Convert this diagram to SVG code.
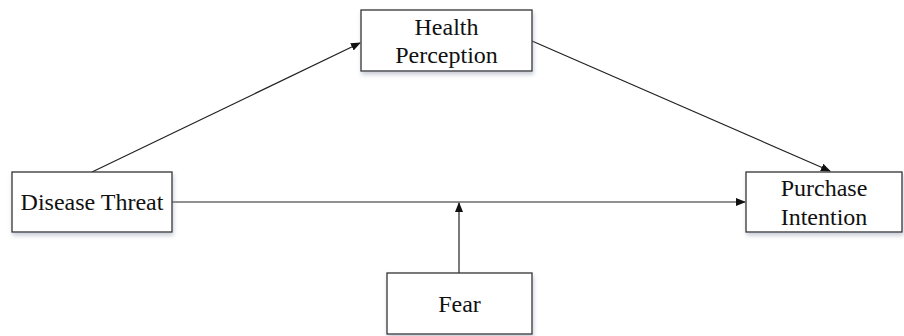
<svg xmlns="http://www.w3.org/2000/svg" width="904" height="336" viewBox="0 0 904 336">
<defs>
<marker id="arr" markerWidth="10" markerHeight="8" refX="9" refY="4" orient="auto" markerUnits="userSpaceOnUse">
<path d="M0,0 L10,4 L0,8 Z" fill="#111"/>
</marker>
<filter id="sh" x="-10%" y="-10%" width="125%" height="140%">
<feDropShadow dx="1" dy="3" stdDeviation="2" flood-color="#8890a8" flood-opacity="0.45"/>
</filter>
<style>
.box{fill:#fff;stroke:#333;stroke-width:1.3;filter:url(#sh)}
.t{font-family:"Liberation Serif","Times New Roman",serif;font-size:24px;fill:#111;text-anchor:middle}
.c{stroke:#222;stroke-width:1.2;fill:none}
</style>
</defs>
<rect width="904" height="336" fill="#fff"/>
<g id="connectors">
<line class="c" x1="92" y1="172" x2="360" y2="43" marker-end="url(#arr)"/>
<line class="c" x1="532" y1="41" x2="830" y2="171" marker-end="url(#arr)"/>
<line class="c" x1="172" y1="202" x2="745" y2="202" marker-end="url(#arr)"/>
<line class="c" x1="459" y1="273" x2="459" y2="203" marker-end="url(#arr)"/>
</g>
<g id="health-perception">
<rect class="box" x="361" y="10" width="171" height="61"/>
<text class="t" x="446.5" y="35">Health</text>
<text class="t" x="446.5" y="63">Perception</text>
</g>
<g id="disease-threat">
<rect class="box" x="12" y="172" width="160" height="60"/>
<text class="t" x="92" y="210">Disease Threat</text>
</g>
<g id="purchase-intention">
<rect class="box" x="746" y="172" width="156" height="60"/>
<text class="t" x="824" y="196">Purchase</text>
<text class="t" x="824" y="225">Intention</text>
</g>
<g id="fear">
<rect class="box" x="387" y="273" width="145" height="61"/>
<text class="t" x="459.5" y="312">Fear</text>
</g>
</svg>
